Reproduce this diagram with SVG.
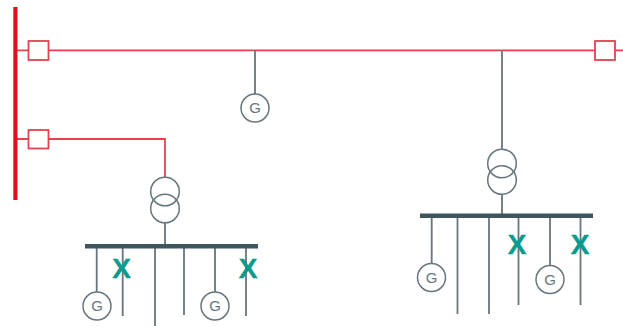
<svg xmlns="http://www.w3.org/2000/svg" width="623" height="326" viewBox="0 0 623 326">
<style>
.red{fill:none;stroke:#e2434f;stroke-width:1.8}
.wire{fill:none;stroke:#66767e;stroke-width:1.8}
.ring{fill:#fff;stroke:#66767e;stroke-width:1.5}
.ringo{fill:none;stroke:#66767e;stroke-width:1.5}
.bar{fill:#3f5660}
.g{font-family:"Liberation Sans",Arial,sans-serif;font-size:15px;fill:#66767e;text-anchor:middle}
.x{font-family:"Liberation Sans",Arial,sans-serif;font-size:28px;font-weight:700;fill:#0a9a8e;stroke:#0a9a8e;stroke-width:.4;text-anchor:middle}
</style>
<rect width="623" height="326" fill="#fff"/>
<g id="connectors">
<path class="red" d="M17 50.300H623M17 139H165V178"/>
<path class="wire" d="M255 50.300V94M165 222V245M502 50.300V150M502 194V214"/>
<path class="wire" d="M96.700 247V292M122.700 247V316M155 247V326M184 247V315M215 247V292M246 247V316"/>
<path class="wire" d="M431.700 217V263M457.500 217V314M489 217V314M518.500 217V305M550 217V265M580.500 217V305"/>
</g>
<g id="main-bus"><rect x="13.300" y="7" width="4.200" height="193" fill="#e0111f"/></g>
<g id="breaker-1"><rect class="red" x="28.500" y="41" width="20" height="19" style="fill:#fff"/></g>
<g id="breaker-2"><rect class="red" x="28.500" y="130" width="20" height="18.500" style="fill:#fff"/></g>
<g id="breaker-3"><rect class="red" x="595" y="41" width="20" height="19" style="fill:#fff"/></g>
<g id="gen-top"><circle class="ring" cx="255" cy="108" r="14"/><text class="g" x="255" y="113">G</text></g>
<g id="transformer-left"><circle class="ringo" cx="165" cy="191.500" r="14.300"/><circle class="ringo" cx="165" cy="208.500" r="14.300"/></g>
<g id="transformer-right"><circle class="ringo" cx="502" cy="163.500" r="14.300"/><circle class="ringo" cx="502" cy="180" r="14.300"/></g>
<g id="bus-left"><rect class="bar" x="85" y="244" width="173" height="4.500"/></g>
<g id="bus-right"><rect class="bar" x="420" y="213.500" width="173" height="4.500"/></g>
<g id="gen-l1"><circle class="ring" cx="97" cy="306" r="14"/><text class="g" x="97" y="311.300">G</text></g>
<g id="gen-l2"><circle class="ring" cx="215" cy="306" r="14"/><text class="g" x="215" y="311.300">G</text></g>
<g id="gen-r1"><circle class="ring" cx="431.500" cy="277.500" r="14"/><text class="g" x="431.500" y="282.800">G</text></g>
<g id="gen-r2"><circle class="ring" cx="550" cy="279.500" r="14"/><text class="g" x="550" y="284.800">G</text></g>
<g id="x-l1"><text class="x" x="121.500" y="278">X</text></g>
<g id="x-l2"><text class="x" x="248" y="278">X</text></g>
<g id="x-r1"><text class="x" x="517" y="254">X</text></g>
<g id="x-r2"><text class="x" x="580" y="254">X</text></g>
</svg>
